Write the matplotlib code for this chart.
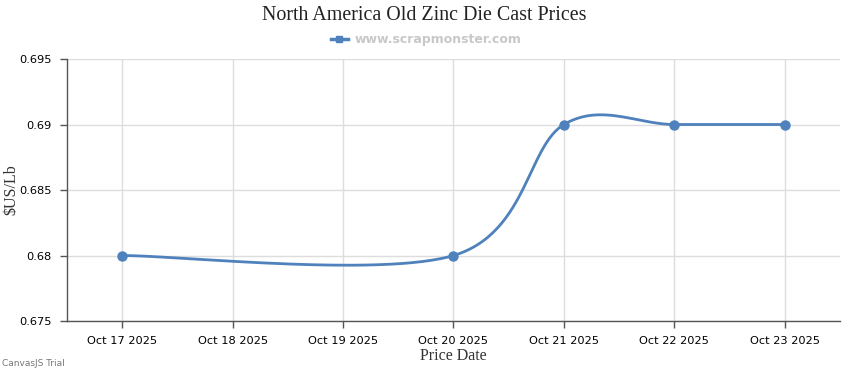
import numpy as np
import pandas as pd
import matplotlib
matplotlib.use("Agg")
import matplotlib.pyplot as plt
from matplotlib.lines import Line2D

# data
dates = ["2025-10-17", "2025-10-20", "2025-10-21", "2025-10-22", "2025-10-23"]
prices = [0.680, 0.680, 0.690, 0.690, 0.690]
tick_dates = ["2025-10-17", "2025-10-18", "2025-10-19", "2025-10-20",
              "2025-10-21", "2025-10-22", "2025-10-23"]
y_ticks = [0.675, 0.68, 0.685, 0.69, 0.695]
y_tick_labels = ["0.675", "0.68", "0.685", "0.69", "0.695"]

LINE = "#4F81BC"
GRID = "#DDDDDD"
AXIS = "#555555"

base = pd.Timestamp(tick_dates[0])
xs = np.array([(pd.Timestamp(d) - base).days for d in dates], dtype=float)
ys = np.array(prices)
tx = np.array([(pd.Timestamp(d) - base).days for d in tick_dates], dtype=float)
tlabels = [pd.Timestamp(d).strftime("%b %d %Y") for d in tick_dates]


def spline(x, y, tension=2.0, n=60):
    # bezier spline like canvasjs draws it
    px, py = [], []
    m = len(x)
    for i in range(1, m):
        a = i - 1
        i1 = 0 if a == 0 else a - 1
        i2 = a if a == m - 1 else a + 1
        c1x = x[a] + (x[i2] - x[i1]) / tension / 3
        c1y = y[a] + (y[i2] - y[i1]) / tension / 3
        b = i
        j1 = 0 if b == 0 else b - 1
        j2 = b if b == m - 1 else b + 1
        c2x = x[b] - (x[j2] - x[j1]) / tension / 3
        c2y = y[b] - (y[j2] - y[j1]) / tension / 3
        t = np.linspace(0, 1, n)
        px.extend((1-t)**3*x[a] + 3*(1-t)**2*t*c1x + 3*(1-t)*t**2*c2x + t**3*x[b])
        py.extend((1-t)**3*y[a] + 3*(1-t)**2*t*c1y + 3*(1-t)*t**2*c2y + t**3*y[b])
    return np.array(px), np.array(py)


fig = plt.figure(figsize=(8.5, 3.7), dpi=100)
ax = fig.add_axes([67/850, 1 - 321/370, (840-67)/850, (321-59)/370])

sx, sy = spline(xs, ys)
ax.plot(sx, sy, color=LINE, lw=2, solid_capstyle="round", zorder=3)
ax.plot(xs, ys, "o", color=LINE, ms=6.5, zorder=4)

ax.set_xlim(-0.5, 6.5)
ax.set_ylim(0.675, 0.695)
ax.set_xticks(tx)
ax.set_xticklabels(tlabels, fontsize=8.2, family="DejaVu Sans", color="#000000")
ax.set_yticks(y_ticks)
ax.set_yticklabels(y_tick_labels, fontsize=8.2, family="DejaVu Sans", color="#000000")
ax.grid(True, color=GRID, lw=1)
ax.set_axisbelow(True)
for s in ["top", "right"]:
    ax.spines[s].set_visible(False)
for s in ["left", "bottom"]:
    ax.spines[s].set_color(AXIS)
    ax.spines[s].set_linewidth(1)
ax.tick_params(axis="both", color=AXIS, length=5, width=1, pad=6)

ax.set_xlabel("Price Date", family="Liberation Serif", fontsize=11.5, color="#333333", labelpad=1)
fig.text(11/850, 1 - 190/370, r"\$US/Lb", rotation=90, ha="center", va="center",
         family="Liberation Serif", fontsize=11.5, color="#333333")

fig.text(424/850, 1 - 16/370, "North America Old Zinc Die Cast Prices",
         ha="center", va="center", family="Liberation Serif", fontsize=14.4, color="#222222")

h = Line2D([], [], color=LINE, lw=2.5, marker="s", ms=5)
fig.legend(handles=[h], labels=["www.scrapmonster.com"], loc="center",
           bbox_to_anchor=(426/850, 1 - 40/370), frameon=False, handlelength=1.4,
           handletextpad=0.5, prop={"family": "DejaVu Sans", "weight": "bold", "size": 9},
           labelcolor="#C8C8C8")

fig.text(2/850, 1 - 363/370, "CanvasJS Trial", fontsize=6.5, color="#777777",
         ha="left", va="center", family="DejaVu Sans")

fig.savefig("out.png", dpi=100, facecolor="white")
